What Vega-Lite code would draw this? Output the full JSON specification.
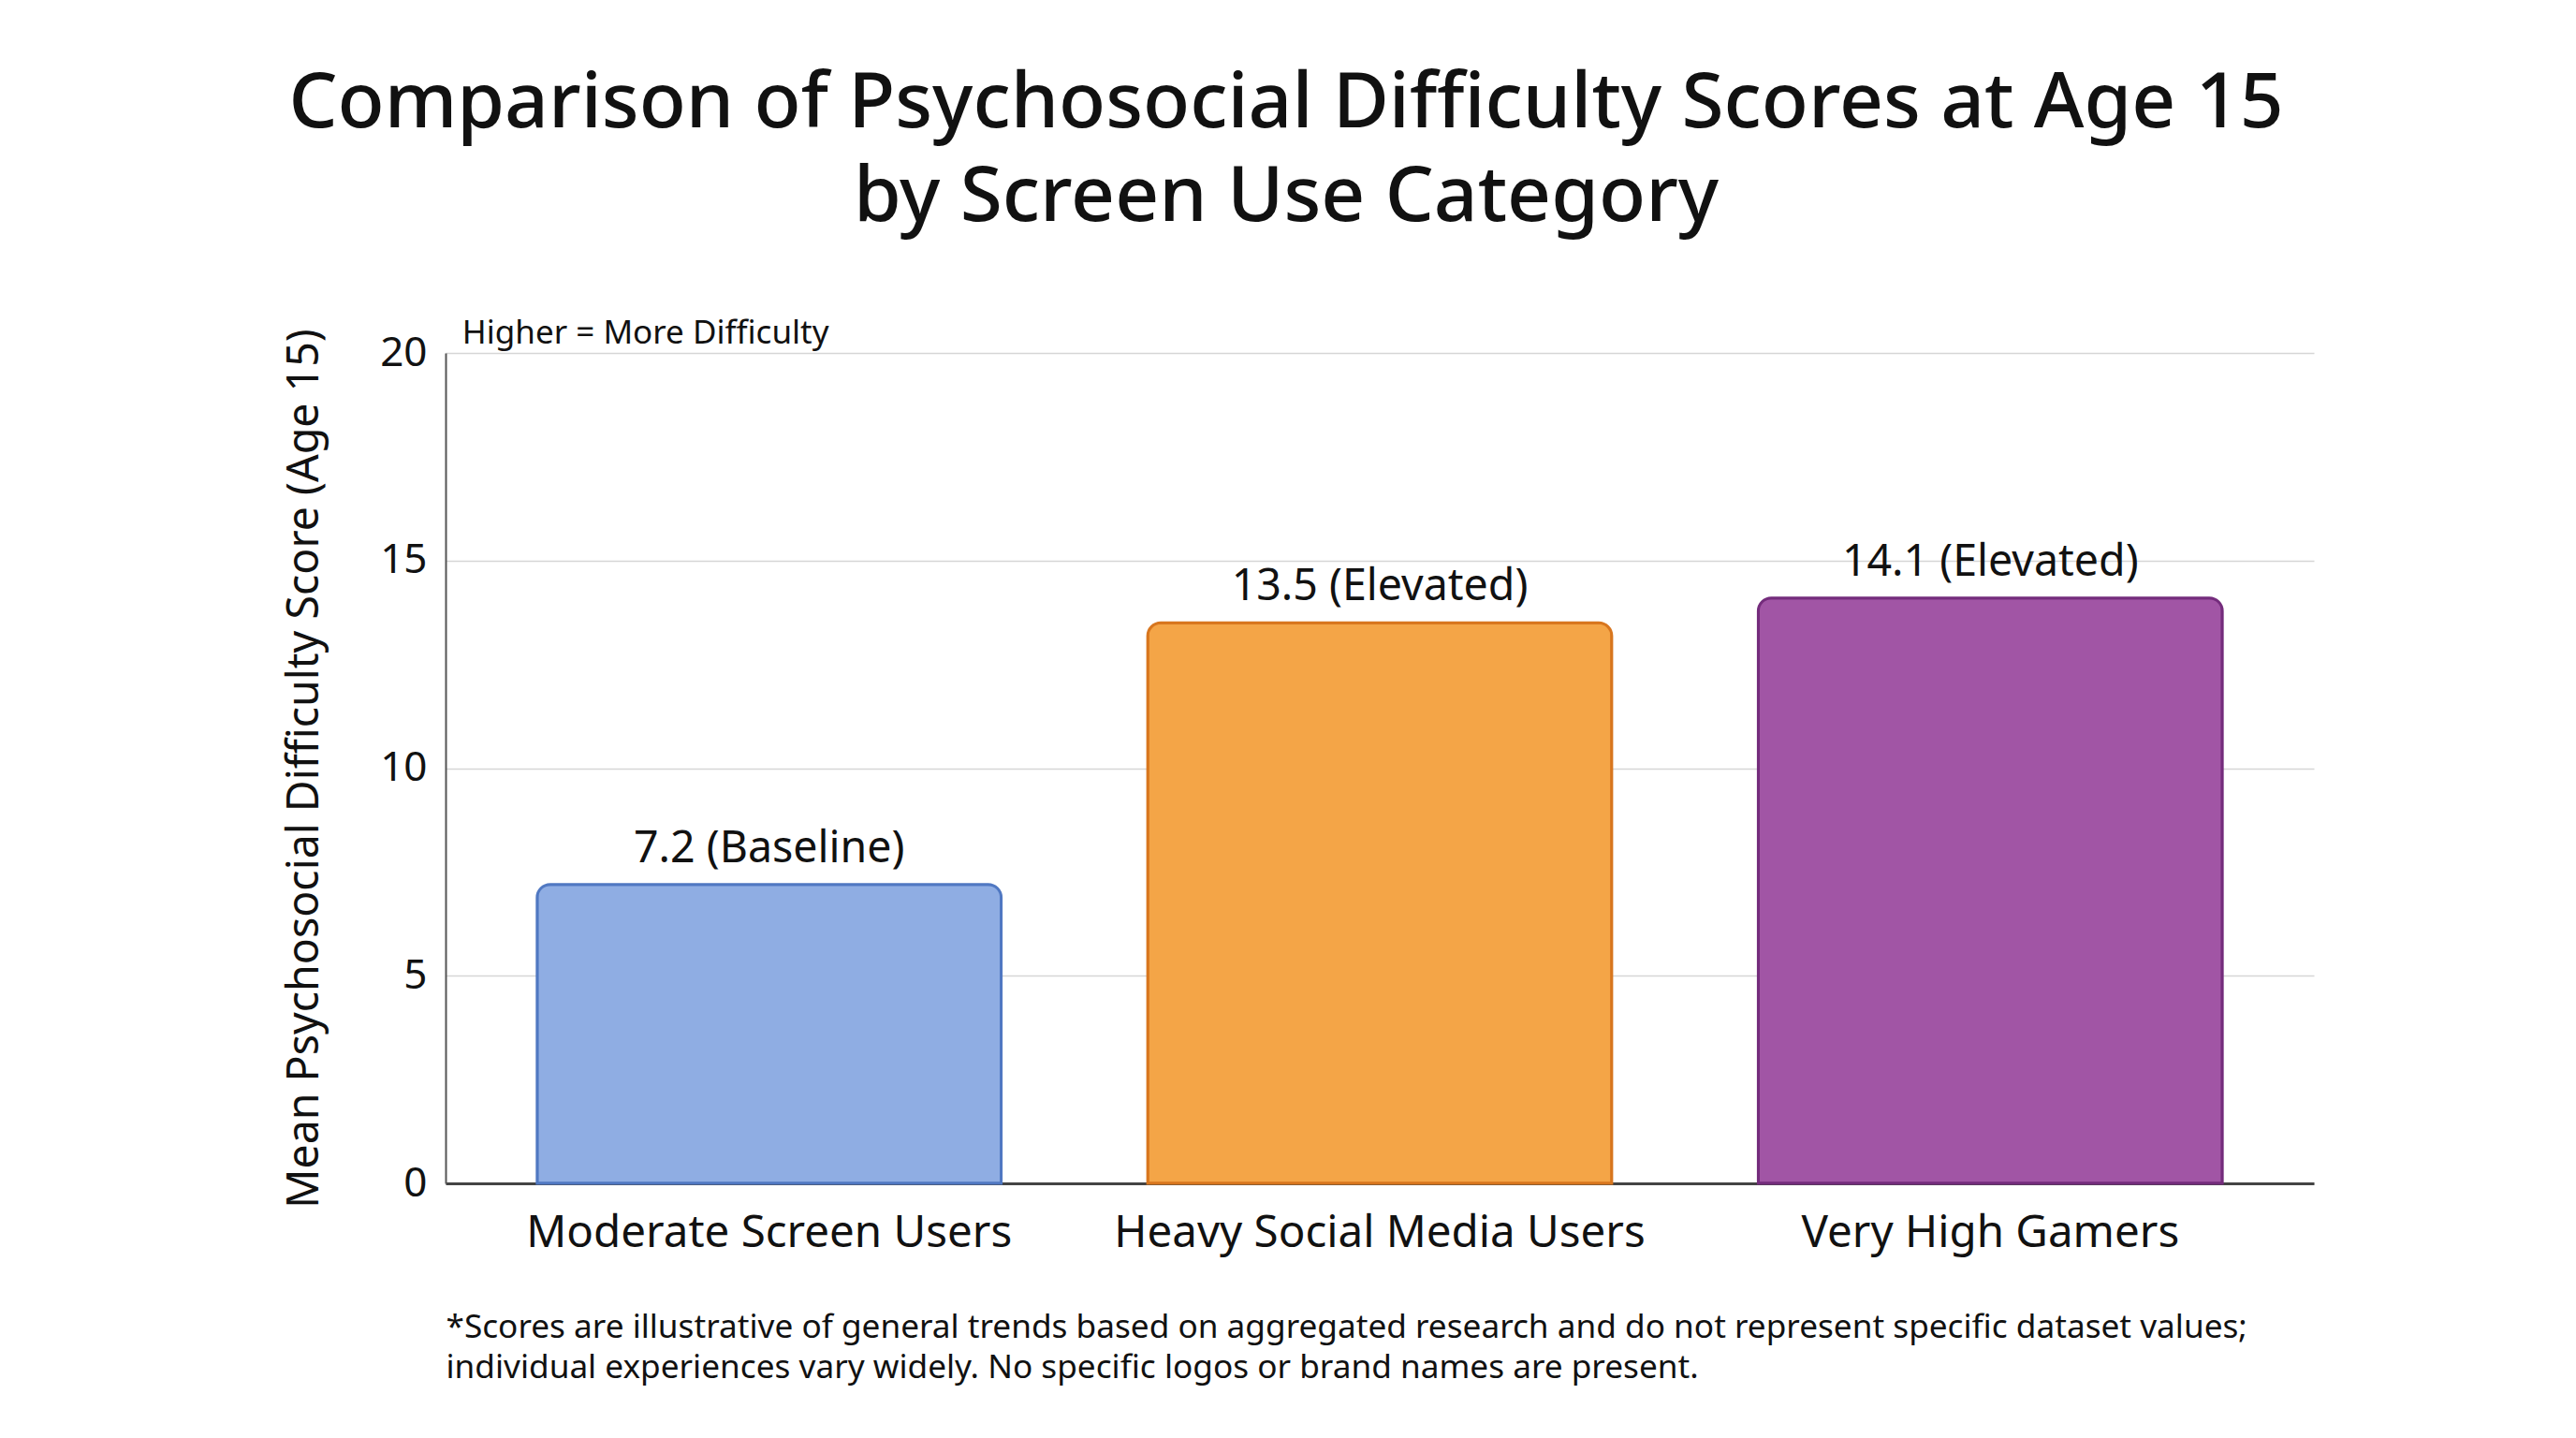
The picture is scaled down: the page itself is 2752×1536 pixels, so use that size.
{
  "$schema": "https://vega.github.io/schema/vega-lite/v6.json",
  "width": 1996,
  "height": 887,
  "autosize": {"type": "none"},
  "padding": {"left": 476, "top": 377, "right": 280, "bottom": 272},
  "background": "white",
  "title": {
    "text": ["Comparison of Psychosocial Difficulty Scores at Age 15", "by Screen Use Category"],
    "font": "Noto Sans",
    "fontSize": 82,
    "fontWeight": 500,
    "color": "#111111",
    "anchor": "middle",
    "frame": "group",
    "dx": -100,
    "lineHeight": 100,
    "offset": 86
  },
  "config": {
    "view": {"stroke": null},
    "font": "Noto Sans"
  },
  "layer": [
    {
      "data": {
        "values": [
          {"category": "Moderate Screen Users", "score": 7.2, "label": "7.2 (Baseline)"},
          {"category": "Heavy Social Media Users", "score": 13.5, "label": "13.5 (Elevated)"},
          {"category": "Very High Gamers", "score": 14.1, "label": "14.1 (Elevated)"}
        ]
      },
      "layer": [
        {
          "mark": {"type": "bar", "cornerRadiusTopLeft": 14, "cornerRadiusTopRight": 14, "strokeWidth": 3},
          "encoding": {
            "color": {
              "field": "category",
              "type": "nominal",
              "scale": {
                "domain": ["Moderate Screen Users", "Heavy Social Media Users", "Very High Gamers"],
                "range": ["#8FADE3", "#F4A547", "#A155A5"]
              },
              "legend": null
            },
            "stroke": {
              "field": "category",
              "type": "nominal",
              "scale": {
                "domain": ["Moderate Screen Users", "Heavy Social Media Users", "Very High Gamers"],
                "range": ["#5078C2", "#D8761E", "#742C7C"]
              },
              "legend": null
            }
          }
        },
        {
          "mark": {"type": "text", "baseline": "alphabetic", "dy": -24, "fontSize": 46.5, "color": "#111111"},
          "encoding": {
            "text": {"field": "label", "type": "nominal"}
          }
        }
      ],
      "encoding": {
        "x": {
          "field": "category",
          "type": "nominal",
          "sort": null,
          "scale": {"paddingInner": 0.24, "paddingOuter": 0.15},
          "axis": {
            "labelAngle": 0,
            "labelFontSize": 47.5,
            "labelLimit": 0,
            "labelColor": "#111111",
            "labelPadding": 29,
            "ticks": false,
            "domainColor": "#444444",
            "domainWidth": 3,
            "title": [
              "*Scores are illustrative of general trends based on aggregated research and do not represent specific dataset values;",
              "individual experiences vary widely. No specific logos or brand names are present."
            ],
            "titleFontSize": 35.2,
            "titleFontWeight": "normal",
            "titleColor": "#111111",
            "titleAnchor": "start",
            "titleAlign": "left",
            "titleLineHeight": 43,
            "titlePadding": 60
          }
        },
        "y": {
          "field": "score",
          "type": "quantitative",
          "scale": {"domain": [0, 20]},
          "axis": {
            "values": [0, 5, 10, 15, 20],
            "labelFontSize": 44,
            "labelColor": "#111111",
            "labelPadding": 20,
            "ticks": false,
            "domainColor": "#555555",
            "domainWidth": 2,
            "gridColor": "#D6D6D6",
            "gridWidth": 1.5,
            "title": "Mean Psychosocial Difficulty Score (Age 15)",
            "titleFontSize": 46.5,
            "titleFontWeight": "normal",
            "titleColor": "#111111",
            "titlePadding": 56
          }
        }
      }
    },
    {
      "data": {"values": [{"note": "Higher = More Difficulty", "score": 20}]},
      "mark": {"type": "text", "align": "left", "baseline": "alphabetic", "dx": -80, "dy": -10, "fontSize": 35, "color": "#111111"},
      "encoding": {
        "x": {"datum": "Moderate Screen Users", "type": "nominal", "bandPosition": 0},
        "y": {"field": "score", "type": "quantitative"},
        "text": {"field": "note", "type": "nominal"}
      }
    }
  ]
}
